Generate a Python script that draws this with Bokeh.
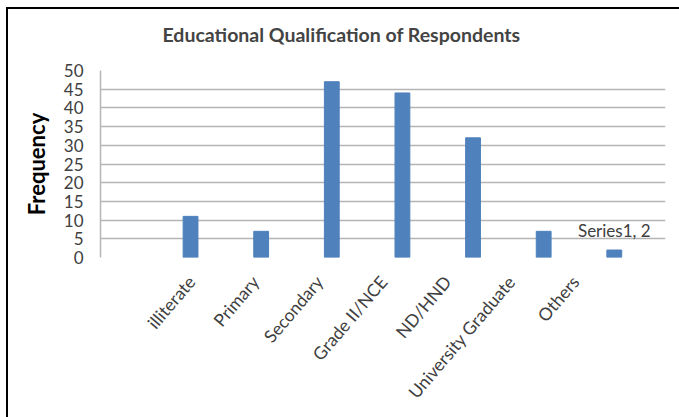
from bokeh.plotting import figure
from bokeh.models import Range1d, LinearAxis, FixedTicker, Label
from bokeh.embed import file_html
from bokeh.resources import INLINE

title_text = "Educational Qualification of Respondents"
y_label = "Frequency"
categories = ["illiterate", "Primary", "Secondary", "Grade II/NCE", "ND/HND",
              "University Graduate", "Others"]
values = [11, 7, 47, 44, 32, 7, 2]
series_name = "Series1"
y_ticks = [0, 5, 10, 15, 20, 25, 30, 35, 40, 45, 50]

positions = list(range(1, len(categories) + 1))

FONT = "Lato"
BAR = "#4F81BD"
GRID = "#b5b5b5"
TXT = "#404040"

# picture frame (top and left edges) drawn as the page background behind a transparent border
frame_css = ("linear-gradient(#000, #000) 6px 7px / 673px 2px no-repeat, "
             "linear-gradient(#000, #000) 6px 7px / 2px 410px no-repeat, #ffffff")

p = figure(width=679, height=417, output_backend="svg", toolbar_location=None,
           x_range=Range1d(-0.275, 7.725), y_range=Range1d(0, 50),
           min_border_left=100, min_border_right=14, min_border_top=70,
           min_border_bottom=160, x_axis_location=None,
           styles={"background": frame_css})
p.border_fill_alpha = 0

p.vbar(x=positions, top=values, width=0.21, color=BAR)

# category axis (labels laid out on their own slightly narrower spacing)
p.extra_x_ranges = {"labels": Range1d(-0.422, 8.406)}
xax = LinearAxis(x_range_name="labels", ticker=FixedTicker(ticks=positions),
                 major_label_overrides={pos: c for pos, c in zip(positions, categories)})
xax.major_label_orientation = 0.866
xax.major_tick_in = 0
xax.major_tick_out = 0
xax.minor_tick_in = 0
xax.minor_tick_out = 0
xax.major_label_standoff = 21
xax.major_label_text_font = FONT
xax.major_label_text_font_size = "17.5px"
xax.major_label_text_color = TXT
xax.axis_line_color = None
p.add_layout(xax, "below")

p.xgrid.visible = False
p.outline_line_color = None

yax = p.yaxis[0]
yax.ticker = FixedTicker(ticks=y_ticks)
yax.major_tick_in = 0
yax.major_tick_out = 0
yax.minor_tick_in = 0
yax.minor_tick_out = 0
yax.major_label_standoff = 17
yax.major_label_text_font = FONT
yax.major_label_text_font_size = "17px"
yax.major_label_text_color = TXT
yax.axis_line_color = GRID
yax.axis_line_width = 1.5
yax.axis_label = y_label
yax.axis_label_text_font = FONT
yax.axis_label_text_font_style = "bold"
yax.axis_label_text_font_size = "22px"
yax.axis_label_text_color = "black"
yax.axis_label_standoff = 11

p.ygrid.ticker = FixedTicker(ticks=y_ticks)
p.ygrid.grid_line_color = GRID
p.ygrid.grid_line_width = 1.5

p.title.text = title_text
p.title.text_font = FONT
p.title.text_font_style = "bold"
p.title.text_font_size = "19.5px"
p.title.align = "left"
p.title.vertical_align = "top"
p.title.offset = 62
p.title.standoff = 45

lab = Label(x=positions[-1], y=values[-1], text=f"{series_name}, {values[-1]}",
            text_align="center", text_baseline="bottom", y_offset=9,
            text_font=FONT, text_font_size="17px", text_color=TXT)
p.add_layout(lab)

open("out.html", "w").write(file_html(p, INLINE))
